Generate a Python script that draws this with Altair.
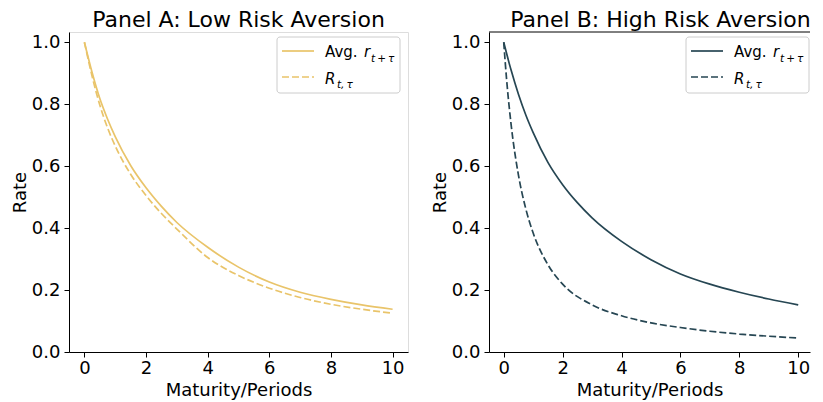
import altair as alt
import pandas as pd

# ---------------- data ----------------
# Panel A (low risk aversion)
a_avg_t = [0, 0.25, 0.5, 0.75, 1, 1.5, 2, 2.5, 3, 4, 5, 6, 7, 8, 9, 10]
a_avg_v = [1.0, 0.902, 0.818, 0.752, 0.695, 0.602, 0.53, 0.47, 0.418, 0.338, 0.274, 0.226, 0.193, 0.17, 0.152, 0.138]
a_r_t = [0, 0.25, 0.5, 0.75, 1, 1.5, 2, 2.5, 3, 4, 5, 6, 7, 8, 9, 10]
a_r_v = [1.0, 0.89, 0.797, 0.724, 0.665, 0.574, 0.505, 0.447, 0.397, 0.305, 0.247, 0.206, 0.176, 0.154, 0.138, 0.125]

# Panel B (high risk aversion)
b_avg_t = [0, 0.25, 0.5, 0.75, 1, 1.5, 2, 2.5, 3, 4, 5, 6, 7, 8, 9, 10]
b_avg_v = [1.0, 0.91, 0.832, 0.765, 0.708, 0.612, 0.54, 0.482, 0.433, 0.357, 0.298, 0.252, 0.219, 0.193, 0.171, 0.152]
b_r_t = [0, 0.1, 0.25, 0.5, 0.75, 1, 1.5, 2, 3, 4, 5, 6, 7, 8, 9, 10]
b_r_v = [1.0, 0.877, 0.735, 0.571, 0.462, 0.384, 0.282, 0.219, 0.152, 0.117, 0.094, 0.079, 0.067, 0.058, 0.051, 0.045]

x_ticks = [0, 2, 4, 6, 8, 10]
y_ticks = [0.0, 0.2, 0.4, 0.6, 0.8, 1.0]

titles = ["Panel A: Low Risk Aversion", "Panel B: High Risk Aversion"]
colors = ["#e9c46a", "#264653"]

FONT = "DejaVu Sans"
H = 320
AX = 18
one = pd.DataFrame({"k": [0]})


def txt(text, x, y, size=15, style="normal"):
    return alt.Chart(one).mark_text(
        text=text, font=FONT, fontSize=size, fontStyle=style,
        align="left", baseline="alphabetic", color="black"
    ).encode(x=alt.value(x), y=alt.value(y))


def panel(t1, v1, t2, v2, color, title, width, xmax, last, lx, tdx):
    x = alt.X("t:Q", scale=alt.Scale(domain=[-0.5, xmax], nice=False, zero=False),
              axis=alt.Axis(values=x_ticks, format="d", title="Maturity/Periods",
                            grid=False, tickSize=5, tickColor="black", domainColor="black",
                            labelFontSize=AX, titleFontSize=AX, labelFont=FONT, titleFont=FONT,
                            labelColor="black", titleColor="black", titleFontWeight="normal",
                            labelPadding=2, titlePadding=4, labelFlush=False, labelOverlap=False))
    y = alt.Y("v:Q", scale=alt.Scale(domain=[0, 1.033], nice=False, zero=False),
              axis=alt.Axis(values=y_ticks, format=".1f", title="Rate",
                            grid=False, tickSize=5, tickColor="black", domainColor="black",
                            labelFontSize=AX, titleFontSize=AX, labelFont=FONT, titleFont=FONT,
                            labelColor="black", titleColor="black", titleFontWeight="normal",
                            labelPadding=4, titlePadding=2, minExtent=38, maxExtent=38,
                            labelFlush=False, labelOverlap=False))
    d1 = pd.DataFrame({"t": t1, "v": v1})
    d2 = pd.DataFrame({"t": t2, "v": v2})
    solid = alt.Chart(d1).mark_line(color=color, strokeWidth=1.7, interpolate="monotone").encode(x=x, y=y)
    dashed = alt.Chart(d2).mark_line(color=color, strokeWidth=1.7, strokeDash=[7, 3],
                                     interpolate="monotone").encode(x=x, y=y)
    # legend (drawn by hand so that the math subscripts can be shown)
    box = alt.Chart(one).mark_rect(fill="white", fillOpacity=0.8, stroke="#cccccc", strokeWidth=1,
                                   cornerRadius=3).encode(
        x=alt.value(lx), x2=alt.value(lx + 123), y=alt.value(5), y2=alt.value(61))
    s1 = alt.Chart(one).mark_rule(color=color, strokeWidth=1.7).encode(
        x=alt.value(lx + 5), x2=alt.value(lx + 37), y=alt.value(19))
    s2 = alt.Chart(one).mark_rule(color=color, strokeWidth=1.7, strokeDash=[7, 3]).encode(
        x=alt.value(lx + 5), x2=alt.value(lx + 37), y=alt.value(45))
    texts = [
        txt("Avg.", lx + 48, 25),
        txt("r", lx + 87, 25, style="italic"),
        txt("t\u2009+\u2009\u03c4", lx + 94, 29.5, size=10.5, style="italic"),
        txt("R", lx + 48, 51.7, style="italic"),
        txt("t,\u2009\u03c4", lx + 60, 55.5, size=10.5, style="italic"),
    ]
    layers = [solid, dashed, box, s1, s2] + texts
    if last:
        top = alt.Chart(one).mark_rule(color="black", strokeWidth=1).encode(
            x=alt.value(0), x2=alt.value(width), y=alt.value(0))
        layers.append(top)
    ch = alt.layer(*layers).properties(
        width=width, height=H,
        title=alt.TitleParams(title, fontSize=22, font=FONT, fontWeight="normal",
                              anchor="middle", frame="group", offset=0, color="black",
                              dx=tdx))
    if last:
        ch = ch.properties(view=alt.ViewBackground(stroke="transparent"))
    return ch


pa = panel(a_avg_t, a_avg_v, a_r_t, a_r_v, colors[0], titles[0], 339, 10.5, False, 208, 0)
pb = panel(b_avg_t, b_avg_v, b_r_t, b_r_v, colors[1], titles[1], 321, 10.4, True, 197, 11)

chart = alt.hconcat(pa, pb, spacing=21).properties(
    padding={"left": 2, "top": 0, "right": 0, "bottom": 0}
).configure_view(stroke="black", strokeWidth=1).configure(background="white")

chart.save("out.html", embed_options={"renderer": "svg", "actions": False})
